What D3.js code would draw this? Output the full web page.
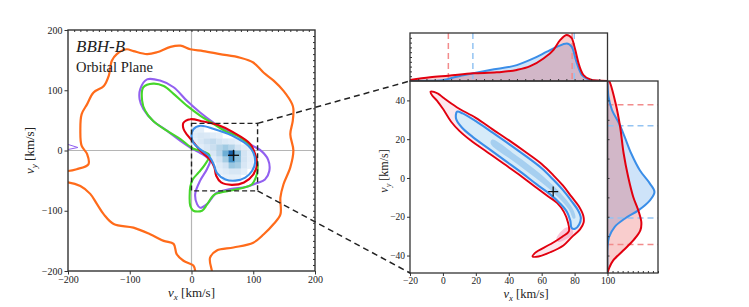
<!DOCTYPE html>
<html><head><meta charset="utf-8">
<script src="https://cdn.jsdelivr.net/npm/d3@7"></script>
<style>
body{margin:0;background:#fff}
svg{display:block}
text{font-family:"Liberation Serif","DejaVu Serif",serif;fill:#222}
</style>
</head><body>
<svg id="c" width="749" height="307"></svg>
<script>
// ---------------- DATA ----------------
const leftTicks = [-200, -100, 0, 100, 200];
const rightXTicks = [-20, 0, 20, 40, 60, 80, 100];
const rightYTicks = [-40, -20, 0, 20, 40];

// contours in the orbital-plane panel (vx, vy)
const orangeContour = [[-215,-34],[-200,-34],[-186,-31],[-167,-23],[-169,-6],[-178,8],[-180,33],[-178,60],[-169,77],[-159,96],[-142,107],[-134,124],[-129,149],[-121,160],[-105,168],[-94,165],[-72,160],[-56,163],[-34,172],[-18,174],[-2,168],[19,165],[46,160],[79,154],[100,146],[117,129],[133,116],[149,99],[163,77],[165,69],[164,49],[160,27],[165,0],[160,-28],[149,-56],[144,-78],[144,-106],[133,-122],[117,-139],[100,-153],[68,-161],[41,-166],[30,-178],[33,-200],[35,-214],[5,-214],[6,-200],[3,-191],[-13,-183],[-24,-172],[-29,-155],[-45,-150],[-67,-139],[-94,-128],[-126,-122],[-142,-106],[-153,-89],[-164,-72],[-180,-59],[-200,-53],[-215,-53]];
const purpleContour = [[-72,118],[-51,116],[-29,105],[-7,82],[14,63],[36,46],[57,33],[79,22],[95,10],[111,1],[124,-15],[126,-34],[119,-48],[106,-54],[90,-60],[63,-64],[41,-70],[25,-89],[14,-95],[9,-89],[6,-72],[14,-50],[25,-31],[30,-17],[22,-9],[10,-2],[-2,5],[-18,16],[-40,33],[-62,49],[-78,69],[-84,85],[-83,102]];
const purpleSmall = [[-203,11],[-184,5],[-203,1]];
const greenContour = [[-78,105],[-62,111],[-45,107],[-29,94],[-7,74],[14,58],[36,44],[57,31],[79,22],[96,5],[106,-17],[107,-32],[104,-45],[98,-56],[84,-62],[66,-66],[46,-70],[36,-74],[25,-90],[17,-100],[3,-100],[-2,-92],[-3,-75],[-2,-60],[2,-48],[12,-36],[22,-23],[29,-8],[20,-2],[3,3],[-18,19],[-40,33],[-62,49],[-75,66],[-80,83]];
const redContourL = [[-13,46],[-2,52],[19,48],[41,43],[68,30],[95,11],[103,-6],[106,-23],[100,-40],[85,-53],[65,-57],[48,-53],[40,-42],[37,-28],[30,-15],[15,-1],[3,14],[-7,26],[-13,36]];
const blueContourL = [[3,35],[14,41],[44,33],[71,22],[92,8],[100,-3],[103,-20],[98,-34],[87,-45],[71,-50],[55,-48],[41,-37],[36,-23],[28,-9],[14,2],[3,13],[0,24]];
const markerL = [68, -8];
const zoomBox = {x: [0, 107], y: [-67, 45]};

// binned density (blue) in orbital plane
const heatXLeft = [0,10,20,30,40,50,60,70,80,90];
const heatYTop = [40,30,20,10,0,-10,-20,-30,-40];
const heatValues = [
 [0.06,0.05,0,0,0,0,0,0,0,0],
 [0.08,0.12,0.10,0.07,0.04,0,0,0,0,0],
 [0.05,0.12,0.20,0.24,0.15,0.10,0.07,0.03,0,0],
 [0,0.06,0.12,0.20,0.30,0.38,0.30,0.15,0.06,0.03],
 [0,0,0.06,0.12,0.28,0.55,0.95,0.50,0.15,0.05],
 [0,0,0,0.06,0.16,0.36,0.72,0.45,0.15,0.05],
 [0,0,0,0,0.08,0.16,0.40,0.36,0.12,0.03],
 [0,0,0,0,0.04,0.08,0.12,0.12,0.05,0],
 [0,0,0,0,0,0.03,0.04,0.03,0,0]
];

// zoomed panel contours
const redContourR = [[-7.5,44.5],[-3,43.5],[0.5,41.2],[8.4,36.5],[20,31],[30,25.2],[40,19.5],[50,13.5],[60,7.2],[67,1.5],[73,-4],[78,-9.5],[82.5,-14.5],[85.3,-19.5],[85.5,-23],[83.3,-26.5],[78.3,-30.5],[73.2,-34.8],[65.2,-38.3],[58,-40.5],[54.5,-40.5],[56,-38.6],[65.2,-34.2],[72.5,-30.3],[76.5,-27.5],[76,-23],[73.5,-17.5],[69.5,-13],[64,-9.5],[56,-4.5],[47,1.3],[37,7.3],[27,13.3],[17,19.3],[10,24.3],[5,29],[0.5,35],[-3.5,39.8],[-6.5,42.5]];
const redCoreR = [[75,-25.5],[78.5,-26.5],[79,-29],[75,-31.5],[70,-33],[69,-31]];
const blueContourR = [[8.6,34.2],[12,33.3],[20,29.3],[30,23.5],[40,17.6],[50,11.5],[60,5],[67,-0.8],[73,-6.3],[78,-11.8],[82,-16.5],[83.8,-20.5],[82.8,-24],[80.3,-26.2],[78.2,-25.8],[77.4,-22],[75.4,-17.5],[71,-13],[65,-8.3],[57,-3.3],[48,2.6],[38,8.8],[28,15],[18,21.2],[11.5,26],[8,30.5]];
const blueCoreR = [[30,19.8],[45,11.3],[58,2.9],[67,-3.9],[74,-10.2],[79,-16],[80.5,-20.5],[79.3,-21],[76.5,-16.3],[71.5,-11.2],[64.5,-5.5],[56,0.3],[43,8.5],[29,17.8]];
const markerR = [67, -7];

// marginal distributions (top: vx, right: vy)
const topRedX  = [-20,-7.8,3.3,18.5,32.7,44.9,53,61.1,67.2,71.2,75.3,78.3,80.4,82.4,85.4,89.5,93.6,100];
const topRedH  = [0.02,0.077,0.11,0.16,0.18,0.23,0.31,0.47,0.65,0.85,0.96,0.89,0.65,0.37,0.125,0.035,0.01,0];
const topBlueX = [-20,-10,-1.75,8.4,18.5,28.7,44.9,55,63.2,69.2,75.3,78.3,81.4,84.4,88.5,93,100];
const topBlueH = [0,0.003,0.01,0.09,0.16,0.23,0.33,0.47,0.61,0.71,0.78,0.71,0.37,0.125,0.035,0.005,0];
const rightRedY  = [-49,-46,-42.6,-37.4,-32.2,-27,-22.8,-16.7,-9.8,0.5,12.6,26.4,38.5,49.6,50];
const rightRedW  = [0,0.04,0.11,0.31,0.51,0.65,0.67,0.61,0.51,0.41,0.32,0.25,0.16,0.04,0.02];
const rightBlueY = [-49,-36,-30.5,-25.3,-21,-16.7,-11.5,-7.2,-2.9,4,12.6,21.2,28.1,35,41.9,50];
const rightBlueW = [0,0,0.03,0.14,0.34,0.61,0.84,0.93,0.84,0.64,0.47,0.34,0.23,0.09,0.02,0];
const topRedLines = [3.3, 78.5];
const topBlueLines = [18.2, 79.8];
const rightRedLines = [37.7, -34.3];
const rightBlueLines = [26.9, -20.7];

// ---------------- DRAW ----------------
const svg = d3.select("#c");
const C = {orange:"#ff6b1a", purple:"#9260f0", green:"#45d62a", red:"#e2000f", blue:"#3b8ee8",
           redFill:"rgba(228,26,28,0.22)", blueFill:"rgba(58,142,232,0.25)",
           redDash:"#f28b8b", blueDash:"#93c3f2", frame:"#333"};

const L = {x0:68, x1:315, y0:30, y1:271};
const M = {x0:410, x1:607.5, y0:81, y1:273};
const T = {x0:410, x1:607.5, y0:33, y1:81};
const R = {x0:607.5, x1:658, y0:81, y1:273};

const xL = d3.scaleLinear().domain([-200,200]).range([L.x0,L.x1]);
const yL = d3.scaleLinear().domain([-200,200]).range([L.y1,L.y0]);
const xM = d3.scaleLinear().domain([-20,100]).range([M.x0,M.x1]);
const yM = d3.scaleLinear().domain([-49,50]).range([M.y1,M.y0]);
const yT = d3.scaleLinear().domain([0,1]).range([T.y1,T.y0]);
const xR = d3.scaleLinear().domain([0,1]).range([R.x0,R.x1]);

const defs = svg.append("defs");
function clip(id, b){ defs.append("clipPath").attr("id",id).append("rect")
  .attr("x",b.x0).attr("y",b.y0).attr("width",b.x1-b.x0).attr("height",b.y1-b.y0); }
clip("cL",L); clip("cM",M); clip("cT",T); clip("cR",R);

// ---- left panel ----
const gL = svg.append("g").attr("clip-path","url(#cL)");
gL.append("line").attr("x1",xL(0)).attr("x2",xL(0)).attr("y1",L.y0).attr("y2",L.y1).attr("stroke","#b5b5b5").attr("stroke-width",1.2);
gL.append("line").attr("y1",yL(0)).attr("y2",yL(0)).attr("x1",L.x0).attr("x2",L.x1).attr("stroke","#b5b5b5").attr("stroke-width",1.2);

const heatColor = t => d3.interpolateBlues(0.06 + 0.8*t);
heatValues.forEach((row,i)=>row.forEach((v,j)=>{
  if(v<=0) return;
  const x0 = heatXLeft[j], yTop = heatYTop[i];
  gL.append("rect").attr("x",xL(x0)).attr("y",yL(yTop))
    .attr("width",xL(x0+10)-xL(x0)+0.3).attr("height",yL(yTop-10)-yL(yTop)+0.3)
    .attr("fill",heatColor(v));
}));

const closedL = d3.line().x(d=>xL(d[0])).y(d=>yL(d[1])).curve(d3.curveCatmullRomClosed.alpha(0.5));
const openL = d3.line().x(d=>xL(d[0])).y(d=>yL(d[1])).curve(d3.curveCatmullRom.alpha(0.5));
gL.append("path").attr("d",openL(orangeContour)).attr("fill","none").attr("stroke",C.orange).attr("stroke-width",2.2);
gL.append("path").attr("d",d3.line().x(d=>xL(d[0])).y(d=>yL(d[1]))(purpleSmall)).attr("fill","none").attr("stroke",C.purple).attr("stroke-width",1);
[[purpleContour,C.purple],[greenContour,C.green],[redContourL,C.red],[blueContourL,C.blue]].forEach(([d,c])=>{
  gL.append("path").attr("d",closedL(d)).attr("fill","none").attr("stroke",c).attr("stroke-width",2.1).attr("stroke-linejoin","round");
});
function plus(g, x, y, s){
  g.append("line").attr("x1",x-s).attr("x2",x+s).attr("y1",y).attr("y2",y).attr("stroke","#111").attr("stroke-width",1.3);
  g.append("line").attr("x1",x).attr("x2",x).attr("y1",y-s).attr("y2",y+s).attr("stroke","#111").attr("stroke-width",1.3);
}
plus(gL, xL(markerL[0]), yL(markerL[1]), 5.5);

svg.append("rect").attr("x",xL(zoomBox.x[0])).attr("y",yL(zoomBox.y[1]))
  .attr("width",xL(zoomBox.x[1])-xL(zoomBox.x[0])).attr("height",yL(zoomBox.y[0])-yL(zoomBox.y[1]))
  .attr("fill","none").attr("stroke","#222").attr("stroke-width",1.4).attr("stroke-dasharray","5,3");

// ---- main zoom panel ----
const gM = svg.append("g").attr("clip-path","url(#cM)");
const closedM = d3.line().x(d=>xM(d[0])).y(d=>yM(d[1])).curve(d3.curveCatmullRomClosed.alpha(0.5));
gM.append("path").attr("d",closedM(redContourR)).attr("fill","rgba(245,170,190,0.28)");
gM.append("path").attr("d",closedM(redCoreR)).attr("fill","rgba(240,120,165,0.4)");
gM.append("path").attr("d",closedM(blueContourR)).attr("fill","#d6ebf9");
gM.append("path").attr("d",closedM(blueCoreR)).attr("fill","#a6cff0");
gM.append("path").attr("d",closedM(redContourR)).attr("fill","none").attr("stroke",C.red).attr("stroke-width",1.9).attr("stroke-linejoin","round");
gM.append("path").attr("d",closedM(blueContourR)).attr("fill","none").attr("stroke",C.blue).attr("stroke-width",2.1).attr("stroke-linejoin","round");
plus(gM, xM(markerR[0]), yM(markerR[1]), 5);

// ---- top marginal ----
const gT = svg.append("g").attr("clip-path","url(#cT)");
const topRed = topRedX.map((x,i)=>[x,topRedH[i]]);
const topBlue = topBlueX.map((x,i)=>[x,topBlueH[i]]);
const areaT = d3.area().x(d=>xM(d[0])).y0(yT(0)).y1(d=>yT(d[1])).curve(d3.curveMonotoneX);
const lineT = d3.line().x(d=>xM(d[0])).y(d=>yT(d[1])).curve(d3.curveMonotoneX);
gT.append("path").attr("d",areaT(topBlue)).attr("fill",C.blueFill);
gT.append("path").attr("d",areaT(topRed)).attr("fill",C.redFill);
topRedLines.forEach(v=>gT.append("line").attr("x1",xM(v)).attr("x2",xM(v)).attr("y1",T.y0).attr("y2",T.y1).attr("stroke",C.redDash).attr("stroke-width",1.5).attr("stroke-dasharray","6,4"));
topBlueLines.forEach(v=>gT.append("line").attr("x1",xM(v)).attr("x2",xM(v)).attr("y1",T.y0).attr("y2",T.y1).attr("stroke",C.blueDash).attr("stroke-width",1.5).attr("stroke-dasharray","6,4"));
gT.append("path").attr("d",lineT(topBlue)).attr("fill","none").attr("stroke",C.blue).attr("stroke-width",2);
gT.append("path").attr("d",lineT(topRed)).attr("fill","none").attr("stroke",C.red).attr("stroke-width",2);

// ---- right marginal ----
const gR = svg.append("g").attr("clip-path","url(#cR)");
const rRed = rightRedY.map((y,i)=>[y,rightRedW[i]]);
const rBlue = rightBlueY.map((y,i)=>[y,rightBlueW[i]]);
const areaR = d3.area().y(d=>yM(d[0])).x0(xR(0)).x1(d=>xR(d[1])).curve(d3.curveCatmullRom.alpha(0.5));
const lineR = d3.line().y(d=>yM(d[0])).x(d=>xR(d[1])).curve(d3.curveCatmullRom.alpha(0.5));
gR.append("path").attr("d",areaR(rBlue)).attr("fill",C.blueFill);
gR.append("path").attr("d",areaR(rRed)).attr("fill",C.redFill);
rightRedLines.forEach(v=>gR.append("line").attr("y1",yM(v)).attr("y2",yM(v)).attr("x1",R.x0).attr("x2",R.x1).attr("stroke",C.redDash).attr("stroke-width",1.5).attr("stroke-dasharray","6,4"));
rightBlueLines.forEach(v=>gR.append("line").attr("y1",yM(v)).attr("y2",yM(v)).attr("x1",R.x0).attr("x2",R.x1).attr("stroke",C.blueDash).attr("stroke-width",1.5).attr("stroke-dasharray","6,4"));
gR.append("path").attr("d",lineR(rBlue)).attr("fill","none").attr("stroke",C.blue).attr("stroke-width",2);
gR.append("path").attr("d",lineR(rRed)).attr("fill","none").attr("stroke",C.red).attr("stroke-width",2);

// ---- axes & ticks ----
const fmt = d3.format("d");
function axisStyle(g){ g.select(".domain").remove(); g.selectAll(".tick line").attr("stroke",C.frame);
  g.selectAll(".tick text").style("font-family",'"Liberation Serif",serif').attr("fill","#222"); }
// left panel
svg.append("g").attr("transform",`translate(0,${L.y1})`)
  .call(d3.axisBottom(xL).tickValues(leftTicks).tickSize(3.5).tickPadding(1.5).tickFormat(fmt))
  .call(axisStyle).selectAll("text").style("font-size","10px");
svg.append("g").attr("transform",`translate(${L.x0},0)`)
  .call(d3.axisLeft(yL).tickValues(leftTicks).tickSize(3.5).tickPadding(2).tickFormat(fmt))
  .call(axisStyle).selectAll("text").style("font-size","10px");
const minorL = d3.range(-190,200,10);
svg.append("g").attr("transform",`translate(0,${L.y0})`).call(d3.axisBottom(xL).tickValues(minorL).tickSize(2).tickFormat("")).call(axisStyle);
svg.append("g").attr("transform",`translate(${L.x1},0)`).call(d3.axisLeft(yL).tickValues(minorL).tickSize(2).tickFormat("")).call(axisStyle);
// main zoom
svg.append("g").attr("transform",`translate(0,${M.y1})`)
  .call(d3.axisBottom(xM).tickValues(rightXTicks).tickSize(3).tickPadding(1.5).tickFormat(fmt))
  .call(axisStyle).selectAll("text").style("font-size","9.5px");
svg.append("g").attr("transform",`translate(${M.x0},0)`)
  .call(d3.axisLeft(yM).tickValues(rightYTicks).tickSize(3).tickPadding(2).tickFormat(fmt))
  .call(axisStyle).selectAll("text").style("font-size","9.5px");
// top marginal ticks
svg.append("g").attr("transform",`translate(0,${T.y1})`).call(d3.axisTop(xM).tickValues(d3.range(-15,100,5)).tickSize(2).tickFormat("")).call(axisStyle);
svg.append("g").attr("transform",`translate(${T.x0},0)`).call(d3.axisRight(yT).tickValues(d3.range(0.1,1,0.1)).tickSize(2).tickFormat("")).call(axisStyle);
// right marginal ticks
svg.append("g").attr("transform",`translate(${R.x0},0)`).call(d3.axisRight(yM).tickValues(d3.range(-40,50,10)).tickSize(2).tickFormat("")).call(axisStyle);
svg.append("g").attr("transform",`translate(0,${R.y1})`).call(d3.axisTop(xR).tickValues(d3.range(0.1,1.01,0.1)).tickSize(2).tickFormat("")).call(axisStyle);

// frames
[[L,1.4],[M,1.3],[T,1.3],[R,1.3]].forEach(([b,w])=>svg.append("rect").attr("x",b.x0).attr("y",b.y0)
  .attr("width",b.x1-b.x0).attr("height",b.y1-b.y0).attr("fill","none").attr("stroke",C.frame).attr("stroke-width",w));

// connector lines
svg.append("line").attr("x1",xL(zoomBox.x[1])).attr("y1",yL(zoomBox.y[1])).attr("x2",xM(-20)).attr("y2",yM(50))
  .attr("stroke","#222").attr("stroke-width",1.5).attr("stroke-dasharray","6,4");
svg.append("line").attr("x1",xL(zoomBox.x[1])).attr("y1",yL(zoomBox.y[0])).attr("x2",xM(-20)).attr("y2",yM(-49))
  .attr("stroke","#222").attr("stroke-width",1.5).attr("stroke-dasharray","6,4");

// ---- text ----
function vLabel(sel, sub, size){
  sel.style("font-size",size+"px");
  sel.append("tspan").attr("font-style","italic").text("v");
  sel.append("tspan").attr("font-style","italic").attr("font-size",(size*0.7)+"px").attr("dy",size*0.22).text(sub);
  sel.append("tspan").attr("dy",-size*0.22).text(" [km/s]");
}
svg.append("text").attr("x",(L.x0+L.x1)/2).attr("y",297).attr("text-anchor","middle").call(vLabel,"x",13);
svg.append("text").attr("transform",`translate(34,${(L.y0+L.y1)/2}) rotate(-90)`).attr("text-anchor","middle").call(vLabel,"y",13);
svg.append("text").attr("x",526).attr("y",298).attr("text-anchor","middle").call(vLabel,"x",12.5);
svg.append("text").attr("transform",`translate(388,${(M.y0+M.y1)/2 - 6}) rotate(-90)`).attr("text-anchor","middle").call(vLabel,"y",12);

svg.append("text").attr("x",76).attr("y",52).style("font-size","17px").style("font-style","italic").text("BBH-B");
svg.append("text").attr("x",76).attr("y",72).style("font-size","14.5px").text("Orbital Plane");
</script>
</body></html>
